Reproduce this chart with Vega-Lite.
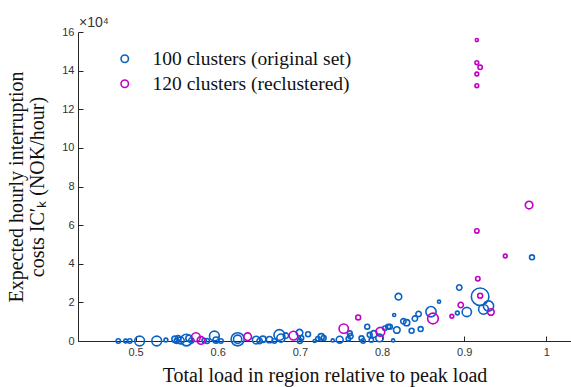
{
  "$schema": "https://vega.github.io/schema/vega-lite/v6.json",
  "width": 493,
  "height": 309,
  "autosize": {"type": "none"},
  "padding": {"left": 78, "top": 32, "right": 0, "bottom": 46},
  "background": "white",
  "title": {
    "text": "×10⁴",
    "anchor": "start",
    "frame": "group",
    "orient": "top",
    "offset": 0,
    "dx": 1,
    "dy": 4,
    "font": "Liberation Sans",
    "fontSize": 14,
    "fontWeight": "normal",
    "color": "#333333"
  },
  "config": {
    "view": {"stroke": null},
    "axis": {
      "grid": false,
      "domainColor": "#262626",
      "tickColor": "#262626",
      "domainWidth": 1,
      "tickWidth": 1,
      "tickSize": -5,
      "labelFont": "Liberation Sans",
      "labelFontSize": 11,
      "labelColor": "#333333",
      "labelOverlap": false,
      "titleFont": "Liberation Serif",
      "titleFontWeight": "normal",
      "titleColor": "#111111"
    }
  },
  "data": {
    "values": [
      {"set": "100 clusters (original set)", "load": 0.479, "cost": 0, "customers": 4},
      {"set": "100 clusters (original set)", "load": 0.488, "cost": 0, "customers": 3},
      {"set": "100 clusters (original set)", "load": 0.493, "cost": 0, "customers": 4},
      {"set": "100 clusters (original set)", "load": 0.505, "cost": 0, "customers": 20},
      {"set": "100 clusters (original set)", "load": 0.5258, "cost": 0, "customers": 20},
      {"set": "100 clusters (original set)", "load": 0.537, "cost": 500, "customers": 3},
      {"set": "100 clusters (original set)", "load": 0.548, "cost": 900, "customers": 8},
      {"set": "100 clusters (original set)", "load": 0.55, "cost": 0, "customers": 5},
      {"set": "100 clusters (original set)", "load": 0.552, "cost": 1400, "customers": 6},
      {"set": "100 clusters (original set)", "load": 0.555, "cost": 300, "customers": 10},
      {"set": "100 clusters (original set)", "load": 0.562, "cost": 500, "customers": 28},
      {"set": "100 clusters (original set)", "load": 0.565, "cost": 1400, "customers": 8},
      {"set": "100 clusters (original set)", "load": 0.568, "cost": 300, "customers": 6},
      {"set": "100 clusters (original set)", "load": 0.5836, "cost": 300, "customers": 4},
      {"set": "100 clusters (original set)", "load": 0.587, "cost": 0, "customers": 5},
      {"set": "100 clusters (original set)", "load": 0.596, "cost": 2590, "customers": 20},
      {"set": "100 clusters (original set)", "load": 0.598, "cost": 500, "customers": 8},
      {"set": "100 clusters (original set)", "load": 0.604, "cost": 0, "customers": 4},
      {"set": "100 clusters (original set)", "load": 0.6243, "cost": 900, "customers": 36},
      {"set": "100 clusters (original set)", "load": 0.6243, "cost": 900, "customers": 14},
      {"set": "100 clusters (original set)", "load": 0.6468, "cost": 500, "customers": 12},
      {"set": "100 clusters (original set)", "load": 0.651, "cost": 0, "customers": 6},
      {"set": "100 clusters (original set)", "load": 0.655, "cost": 900, "customers": 8},
      {"set": "100 clusters (original set)", "load": 0.663, "cost": 700, "customers": 8},
      {"set": "100 clusters (original set)", "load": 0.669, "cost": 0, "customers": 4},
      {"set": "100 clusters (original set)", "load": 0.675, "cost": 3100, "customers": 24},
      {"set": "100 clusters (original set)", "load": 0.677, "cost": 1500, "customers": 14},
      {"set": "100 clusters (original set)", "load": 0.683, "cost": 2800, "customers": 6},
      {"set": "100 clusters (original set)", "load": 0.6996, "cost": 4300, "customers": 9},
      {"set": "100 clusters (original set)", "load": 0.7017, "cost": 1500, "customers": 5},
      {"set": "100 clusters (original set)", "load": 0.7, "cost": 0, "customers": 5},
      {"set": "100 clusters (original set)", "load": 0.71, "cost": 3500, "customers": 5},
      {"set": "100 clusters (original set)", "load": 0.718, "cost": 0, "customers": 2},
      {"set": "100 clusters (original set)", "load": 0.722, "cost": 1200, "customers": 4},
      {"set": "100 clusters (original set)", "load": 0.726, "cost": 2230, "customers": 8},
      {"set": "100 clusters (original set)", "load": 0.729, "cost": 1600, "customers": 5},
      {"set": "100 clusters (original set)", "load": 0.74, "cost": 300, "customers": 2},
      {"set": "100 clusters (original set)", "load": 0.7485, "cost": 700, "customers": 10},
      {"set": "100 clusters (original set)", "load": 0.7607, "cost": 4000, "customers": 5},
      {"set": "100 clusters (original set)", "load": 0.7615, "cost": 2500, "customers": 6},
      {"set": "100 clusters (original set)", "load": 0.759, "cost": 1200, "customers": 4},
      {"set": "100 clusters (original set)", "load": 0.775, "cost": 1400, "customers": 5},
      {"set": "100 clusters (original set)", "load": 0.777, "cost": 0, "customers": 4},
      {"set": "100 clusters (original set)", "load": 0.782, "cost": 7400, "customers": 5},
      {"set": "100 clusters (original set)", "load": 0.785, "cost": 3200, "customers": 5},
      {"set": "100 clusters (original set)", "load": 0.787, "cost": 500, "customers": 4},
      {"set": "100 clusters (original set)", "load": 0.79, "cost": 3600, "customers": 10},
      {"set": "100 clusters (original set)", "load": 0.797, "cost": 1600, "customers": 12},
      {"set": "100 clusters (original set)", "load": 0.8034, "cost": 6600, "customers": 4},
      {"set": "100 clusters (original set)", "load": 0.8075, "cost": 7400, "customers": 5},
      {"set": "100 clusters (original set)", "load": 0.8095, "cost": 7400, "customers": 5},
      {"set": "100 clusters (original set)", "load": 0.8135, "cost": 300, "customers": 2},
      {"set": "100 clusters (original set)", "load": 0.818, "cost": 5700, "customers": 9},
      {"set": "100 clusters (original set)", "load": 0.82, "cost": 22940, "customers": 9},
      {"set": "100 clusters (original set)", "load": 0.8148, "cost": 13460, "customers": 2},
      {"set": "100 clusters (original set)", "load": 0.826, "cost": 10200, "customers": 6},
      {"set": "100 clusters (original set)", "load": 0.83, "cost": 9480, "customers": 8},
      {"set": "100 clusters (original set)", "load": 0.836, "cost": 5300, "customers": 5},
      {"set": "100 clusters (original set)", "load": 0.84, "cost": 11600, "customers": 6},
      {"set": "100 clusters (original set)", "load": 0.8445, "cost": 14000, "customers": 6},
      {"set": "100 clusters (original set)", "load": 0.847, "cost": 6200, "customers": 5},
      {"set": "100 clusters (original set)", "load": 0.8596, "cost": 15170, "customers": 22},
      {"set": "100 clusters (original set)", "load": 0.8694, "cost": 20350, "customers": 2},
      {"set": "100 clusters (original set)", "load": 0.8917, "cost": 14500, "customers": 3},
      {"set": "100 clusters (original set)", "load": 0.894, "cost": 27700, "customers": 6},
      {"set": "100 clusters (original set)", "load": 0.9032, "cost": 15020, "customers": 18},
      {"set": "100 clusters (original set)", "load": 0.9194, "cost": 22940, "customers": 64},
      {"set": "100 clusters (original set)", "load": 0.9235, "cost": 16400, "customers": 20},
      {"set": "100 clusters (original set)", "load": 0.9296, "cost": 18120, "customers": 22},
      {"set": "100 clusters (original set)", "load": 0.9825, "cost": 43340, "customers": 5},
      {"set": "120 clusters (reclustered)", "load": 0.5735, "cost": 2000, "customers": 16},
      {"set": "120 clusters (reclustered)", "load": 0.5796, "cost": 300, "customers": 12},
      {"set": "120 clusters (reclustered)", "load": 0.6365, "cost": 2230, "customers": 12},
      {"set": "120 clusters (reclustered)", "load": 0.6923, "cost": 2800, "customers": 16},
      {"set": "120 clusters (reclustered)", "load": 0.7534, "cost": 6400, "customers": 18},
      {"set": "120 clusters (reclustered)", "load": 0.771, "cost": 12200, "customers": 5},
      {"set": "120 clusters (reclustered)", "load": 0.798, "cost": 4800, "customers": 16},
      {"set": "120 clusters (reclustered)", "load": 0.862, "cost": 11650, "customers": 24},
      {"set": "120 clusters (reclustered)", "load": 0.885, "cost": 12800, "customers": 3},
      {"set": "120 clusters (reclustered)", "load": 0.8958, "cost": 18640, "customers": 6},
      {"set": "120 clusters (reclustered)", "load": 0.9194, "cost": 23460, "customers": 5},
      {"set": "120 clusters (reclustered)", "load": 0.9166, "cost": 32260, "customers": 4},
      {"set": "120 clusters (reclustered)", "load": 0.9325, "cost": 15020, "customers": 9},
      {"set": "120 clusters (reclustered)", "load": 0.95, "cost": 44000, "customers": 3},
      {"set": "120 clusters (reclustered)", "load": 0.9154, "cost": 57000, "customers": 4},
      {"set": "120 clusters (reclustered)", "load": 0.979, "cost": 70400, "customers": 12},
      {"set": "120 clusters (reclustered)", "load": 0.9154, "cost": 132200, "customers": 3},
      {"set": "120 clusters (reclustered)", "load": 0.9154, "cost": 138250, "customers": 3},
      {"set": "120 clusters (reclustered)", "load": 0.9194, "cost": 141700, "customers": 4},
      {"set": "120 clusters (reclustered)", "load": 0.9154, "cost": 144100, "customers": 3},
      {"set": "120 clusters (reclustered)", "load": 0.9154, "cost": 155800, "customers": 2}
    ]
  },
  "mark": {"type": "point", "shape": "circle", "filled": false, "strokeWidth": 1.6, "opacity": 1},
  "encoding": {
    "x": {
      "field": "load", "type": "quantitative",
      "scale": {"domain": [0.43, 1.03], "nice": false, "zero": false},
      "axis": {
        "values": [0.5, 0.6, 0.7, 0.8, 0.9, 1],
        "format": ".1~f",
        "labelOverlap": false,
        "labelPadding": 10,
        "title": "Total load in region relative to peak load",
        "titleFontSize": 20,
        "titlePadding": 8
      }
    },
    "y": {
      "field": "cost", "type": "quantitative",
      "scale": {"domain": [0, 160000], "nice": false, "zero": true},
      "axis": {
        "values": [0, 20000, 40000, 60000, 80000, 100000, 120000, 140000, 160000],
        "labelExpr": "format(datum.value / 10000, 'd')",
        "labelOverlap": false,
        "labelFlush": false,
        "labelPadding": 9,
        "title": ["Expected hourly interruption", "costs IC′ₖ (NOK/hour)"],
        "titleFontSize": 20,
        "titlePadding": 14,
        "titleLineHeight": 21
      }
    },
    "color": {
      "field": "set", "type": "nominal",
      "scale": {"domain": ["100 clusters (original set)", "120 clusters (reclustered)"], "range": ["#0a62c4", "#c400c4"]},
      "legend": {
        "title": null,
        "orient": "none",
        "legendX": 37,
        "legendY": 17,
        "symbolType": "circle",
        "symbolSize": 55,
        "symbolStrokeWidth": 1.6,
        "labelFont": "Liberation Serif",
        "labelFontSize": 19.5,
        "labelColor": "#111111",
        "labelLimit": 0,
        "labelOffset": 18,
        "rowPadding": 4
      }
    },
    "size": {
      "field": "customers", "type": "quantitative",
      "scale": {"type": "linear", "domain": [0, 100], "range": [0, 480]},
      "legend": null
    }
  }
}
